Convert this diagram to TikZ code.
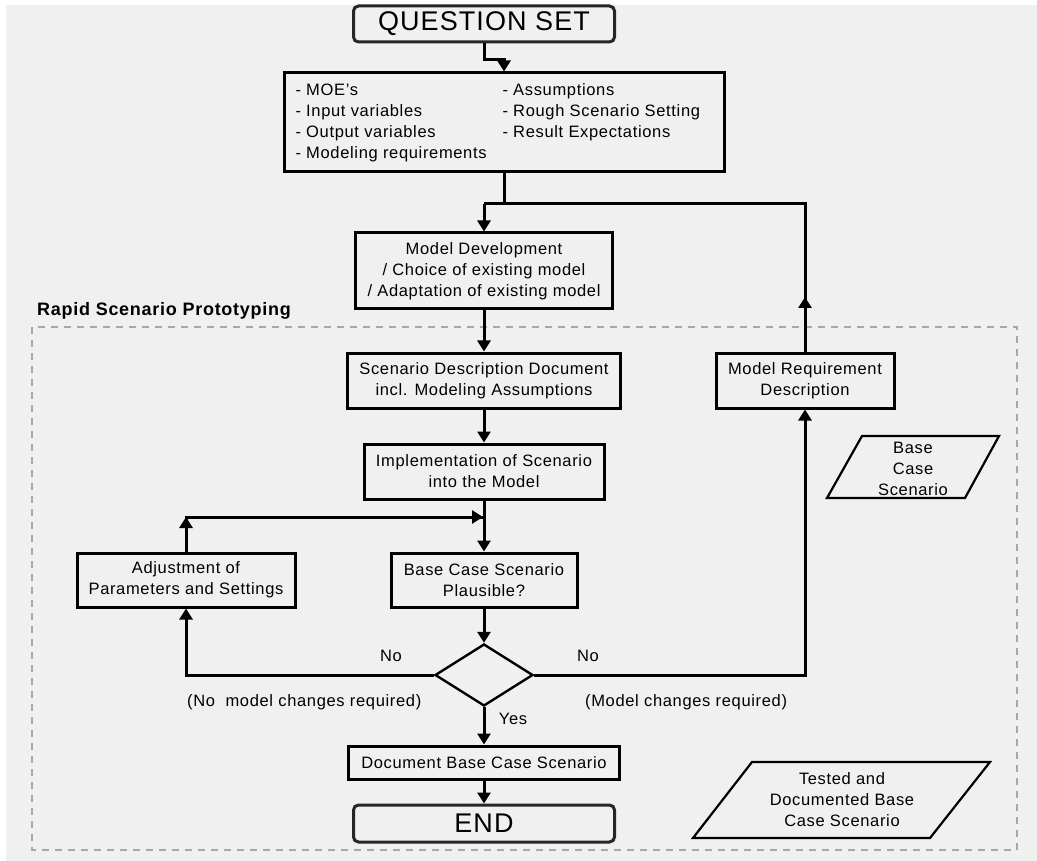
\documentclass[tikz,border=0pt]{standalone}
\usepackage{fontspec}
\setmainfont{Liberation Sans}[LetterSpace=4]
\usetikzlibrary{arrows.meta,shapes.geometric}
\definecolor{bg}{HTML}{F0F0F0}
\definecolor{dashc}{HTML}{A8A8A8}
\tikzset{
 box/.style={draw=black, line width=3pt, fill=bg, inner sep=0pt, align=center, font=\fontsize{16.5}{21}\selectfont},
 rbox/.style={box, rounded corners=5pt, draw=black!85, font=\fontsize{27}{30}\selectfont},
 conn/.style={line width=3pt, draw=black},
 arr/.style={conn, -{Triangle[width=13pt,length=11pt]}},
 lbl/.style={inner sep=0pt, align=center, font=\fontsize{16.5}{21}\selectfont},
 para/.style={draw=black, line width=2.2pt, line join=miter},
}
\begin{document}
\begin{tikzpicture}[x=1pt,y=-1pt]
\useasboundingbox (0,0) rectangle (1037,861);
\fill[white] (0,0) rectangle (1037,861);
\fill[bg] (6,5) rectangle (1037,861);
\draw[dashc, line width=2pt, dash pattern=on 7pt off 6pt] (32,327) rectangle (1017,850);
\node[lbl, anchor=west, font=\fontsize{18}{21}\selectfont\bfseries] (rsp) at (37,311) {Rapid Scenario Prototyping};

\node[rbox, minimum width=261pt, minimum height=36pt] (qs) at (484,24) {QUESTION SET};
\node[box, minimum width=440pt, minimum height=99pt] (req) at (504,122.5)
 {\begin{tabular}{@{}p{207pt}@{}p{210pt}@{}}
 - MOE's & - Assumptions\\
 - Input variables & - Rough Scenario Setting\\
 - Output variables & - Result Expectations\\
 - Modeling requirements & \\
 \end{tabular}};
\node[box, minimum width=257pt, minimum height=76pt] (md) at (484,271) {Model Development\\/ Choice of existing model\\/ Adaptation of existing model};
\node[box, minimum width=273pt, minimum height=55pt] (sd) at (484,380.5) {Scenario Description Document\\incl. Modeling Assumptions};
\node[box, minimum width=178pt, minimum height=55pt] (mr) at (805,380.5) {Model Requirement\\Description};
\node[box, minimum width=240pt, minimum height=55pt] (im) at (484,471.5) {Implementation of Scenario\\into the Model};
\node[box, minimum width=218pt, minimum height=54pt] (adj) at (186,580) {Adjustment of\\Parameters and Settings};
\node[box, minimum width=186pt, minimum height=54pt] (bc) at (484,580) {Base Case Scenario\\Plausible?};
\node[draw, diamond, line width=2.4pt, minimum width=98pt, minimum height=62pt, inner sep=0pt, fill=bg] (dia) at (484,675) {};
\node[box, minimum width=271pt, minimum height=33pt] (doc) at (484,762.5) {Document Base Case Scenario};
\node[rbox, minimum width=261pt, minimum height=37pt] (end) at (484,823.5) {END};

\draw[para, fill=bg] (862,436) -- (999,436) -- (965,498) -- (827,498) -- cycle;
\node[lbl] (bcs) at (913,469) {Base\\Case\\Scenario};
\draw[para, fill=bg] (752,762) -- (990,762) -- (930,838) -- (693,838) -- cycle;
\node[lbl] (tds) at (842,800) {Tested and\\Documented Base\\Case Scenario};

\node[lbl] (no1) at (391,656) {No};
\node[lbl] (no2) at (588,656) {No};
\node[lbl, anchor=west] (nmc) at (187,702) {(No\ \ model changes required)};
\node[lbl, anchor=west] (mc) at (585,702) {(Model changes required)};
\node[lbl] (yes) at (513,719) {Yes};

\coordinate (j1) at (484,204);
\coordinate (mrtop) at (805,204);
\coordinate (mrmid) at (805,297);
\coordinate (lc) at (186,517);
\coordinate (lj) at (483,517);

\draw[arr] (qs.south) -- ++(0,16) -| (req.north);
\draw[conn] (req.south) |- (j1);
\draw[arr] (j1) -- (md.north);
\draw[conn, line join=miter] (mr.north) -- (mrtop) -- (j1);
\draw[arr] (mr.north) -- (mrmid);
\draw[arr] (md.south) -- (sd.north);
\draw[arr] (sd.south) -- (im.north);
\draw[arr] (im.south) -- (bc.north);
\draw[conn, line join=miter] (adj.north) -- (lc) -- (lj);
\draw[arr] (adj.north) -- (lc);
\draw[arr] (lc) -- (lj);
\draw[arr] (bc.south) -- (dia.north);
\draw[arr] (dia.west) -| (adj.south);
\draw[arr] (dia.east) -| (mr.south);
\draw[arr] (dia.south) -- (doc.north);
\draw[arr] (doc.south) -- (end.north);
\end{tikzpicture}
\end{document}
